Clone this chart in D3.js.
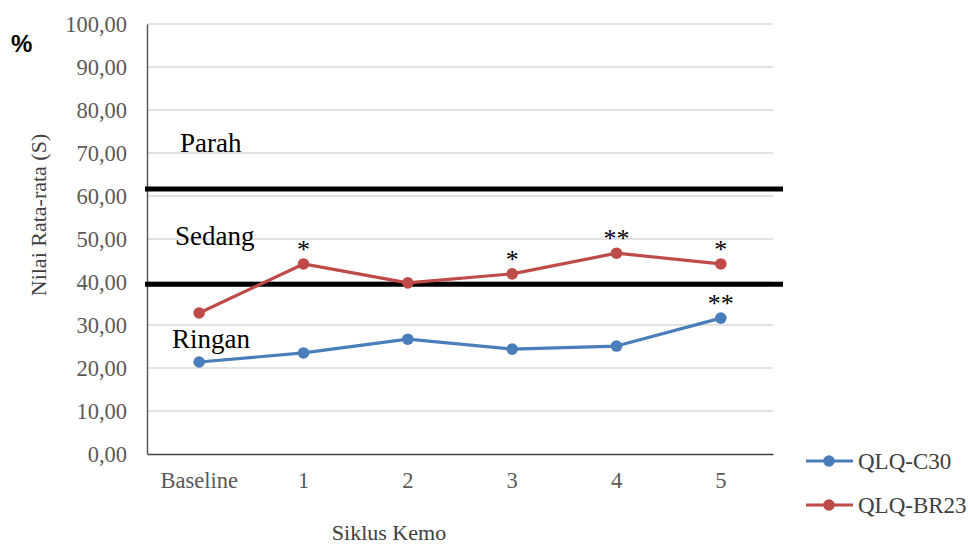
<!DOCTYPE html>
<html><head><meta charset="utf-8">
<script src="https://cdn.jsdelivr.net/npm/d3@7"></script>
<style>html,body{margin:0;padding:0;background:#fff;}</style>
</head><body>
<svg id="c" width="968" height="547"></svg>
<script>
const categories = ["Baseline","1","2","3","4","5"];
const qlqC30 = [21.4, 23.5, 26.7, 24.4, 25.1, 31.6];
const qlqBR23 = [32.8, 44.2, 39.8, 41.9, 46.7, 44.2];
const starsC30 = ["", "", "", "", "", "**"];
const starsBR23 = ["", "*", "", "*", "**", "*"];
const yTicks = [0,10,20,30,40,50,60,70,80,90,100];
const thresholds = [61.6, 39.5];
const zones = [{name:"Parah", v:70.2, dx:33},{name:"Sedang", v:48.6, dx:28},{name:"Ringan", v:24.7, dx:25}];
const seriesNames = ["QLQ-C30","QLQ-BR23"];
const colors = ["#4A7EBB","#BE4B48"];

const svg = d3.select("#c");
const L=147, R=773, T=24, B=454;
const x = d3.scaleBand().domain(categories).range([L,R]);
const y = d3.scaleLinear().domain([0,100]).range([B,T]);
const serif = "'Liberation Serif','Times New Roman',serif";

// gridlines
svg.append("g").selectAll("line").data(yTicks.filter(d=>d>0)).join("line")
  .attr("x1",L).attr("x2",R).attr("y1",d=>y(d)).attr("y2",d=>y(d))
  .attr("stroke","#d9d9d9").attr("stroke-width",1.3);

// y axis
const yAxis = d3.axisLeft(y).tickValues(yTicks).tickSize(0).tickPadding(20)
  .tickFormat(d=>d3.format(".2f")(d).replace(".",","));
const gy = svg.append("g").attr("transform",`translate(${L},0)`).call(yAxis);
gy.select(".domain").attr("stroke","#595959").attr("stroke-width",1.5);
gy.selectAll("text").attr("font-family",serif).attr("font-size",22.5).attr("fill","#595959");

// x axis
const xAxis = d3.axisBottom(x).tickSize(0).tickPadding(18);
const gx = svg.append("g").attr("transform",`translate(0,${B})`).call(xAxis);
gx.select(".domain").attr("stroke","#404040").attr("stroke-width",1.5);
gx.selectAll("text").attr("font-family",serif).attr("font-size",22.5).attr("fill","#595959");

// threshold lines
svg.append("g").selectAll("line").data(thresholds).join("line")
  .attr("x1",L-2).attr("x2",783).attr("y1",d=>y(d)).attr("y2",d=>y(d))
  .attr("stroke","#000").attr("stroke-width",5);

// zone labels
svg.append("g").selectAll("text").data(zones).join("text")
  .attr("x",d=>L+d.dx).attr("y",d=>y(d.v)).text(d=>d.name)
  .attr("font-family",serif).attr("font-size",27).attr("fill","#000");

// series
const cx = d=>x(d)+x.bandwidth()/2;
const series = [qlqC30, qlqBR23];
const stars = [starsC30, starsBR23];
const line = d3.line().x((d,i)=>cx(categories[i])).y(d=>y(d));
series.forEach((s,k)=>{
  svg.append("path").datum(s).attr("d",line).attr("fill","none")
    .attr("stroke",colors[k]).attr("stroke-width",3.2).attr("stroke-linejoin","round");
  svg.append("g").selectAll("circle").data(s).join("circle")
    .attr("cx",(d,i)=>cx(categories[i])).attr("cy",d=>y(d)).attr("r",5.8).attr("fill",colors[k]);
  svg.append("g").selectAll("text").data(s).join("text")
    .attr("x",(d,i)=>cx(categories[i])).attr("y",d=>y(d)-6)
    .attr("text-anchor","middle").text((d,i)=>stars[k][i])
    .attr("font-family",serif).attr("font-size",26).attr("fill","#000");
});

// axis titles
svg.append("text").attr("transform",`translate(46,215) rotate(-90)`).attr("text-anchor","middle")
  .text("Nilai Rata-rata (S)").attr("font-family",serif).attr("font-size",22).attr("fill","#404040");
svg.append("text").attr("x",389).attr("y",540).attr("text-anchor","middle")
  .text("Siklus Kemo").attr("font-family",serif).attr("font-size",22).attr("fill","#404040");
svg.append("text").attr("x",11).attr("y",52).text("%")
  .attr("font-family","'Liberation Sans',Arial,sans-serif").attr("font-weight","bold").attr("font-size",24).attr("fill","#000");

// legend
const lg = svg.append("g").selectAll("g").data(seriesNames).join("g")
  .attr("transform",(d,i)=>`translate(806,${461+i*44})`);
lg.append("line").attr("x1",0).attr("x2",47).attr("stroke",(d,i)=>colors[i]).attr("stroke-width",3.2);
lg.append("circle").attr("cx",23).attr("r",5.8).attr("fill",(d,i)=>colors[i]);
lg.append("text").attr("x",52).attr("y",8).text(d=>d)
  .attr("font-family",serif).attr("font-size",23).attr("fill","#404040");
</script>
</body></html>
